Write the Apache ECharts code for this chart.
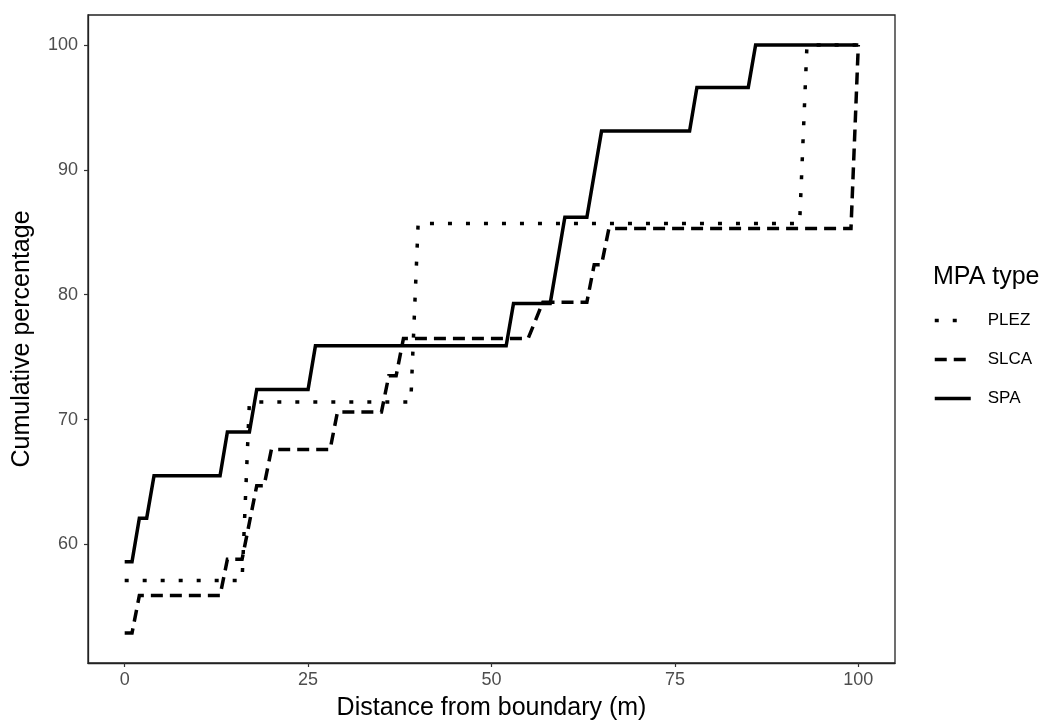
<!DOCTYPE html>
<html>
<head>
<meta charset="utf-8">
<script src="https://cdn.jsdelivr.net/npm/echarts@6/dist/echarts.min.js"></script>
<style>
html,body{margin:0;padding:0;background:#fff;}
#chart{width:1046px;height:728px;}
</style>
</head>
<body>
<div id="chart"></div>
<script>
// Data
const plezX = [0, 16, 17, 39, 40, 92, 93, 100];
const plezY = [57.1, 57.1, 71.4, 71.4, 85.7, 85.7, 100, 100];

const slcaX = [0, 1, 2, 13, 14, 16, 18, 19, 20, 28, 29, 35, 36, 37, 38, 55, 57, 63, 64, 65, 66, 99, 100];
const slcaY = [52.9, 52.9, 55.9, 55.9, 58.8, 58.8, 64.7, 64.7, 67.6, 67.6, 70.6, 70.6, 73.5, 73.5, 76.5, 76.5, 79.4, 79.4, 82.4, 82.4, 85.3, 85.3, 100];

const spaX = [0, 1, 2, 3, 4, 13, 14, 17, 18, 25, 26, 52, 53, 58, 60, 63, 65, 77, 78, 85, 86, 100];
const spaY = [58.6, 58.6, 62.1, 62.1, 65.5, 65.5, 69.0, 69.0, 72.4, 72.4, 75.9, 75.9, 79.3, 79.3, 86.2, 86.2, 93.1, 93.1, 96.6, 96.6, 100, 100];

const seriesNames = ['PLEZ', 'SLCA', 'SPA'];
const xTicks = [0, 25, 50, 75, 100];
const yTicks = [60, 70, 80, 90, 100];

const pairs = (xs, ys) => xs.map((x, i) => [x, ys[i]]);

const FONT = 'Liberation Sans, Arial, sans-serif';
const chart = echarts.init(document.getElementById('chart'), null, {renderer: 'canvas'});

function mkSeries(name, data, type) {
  return {
    name: name,
    type: 'line',
    data: data,
    showSymbol: false,
    symbol: 'none',
    animation: false,
    lineStyle: {color: '#000', width: 3.5, type: type, cap: 'butt', join: 'miter'},
    itemStyle: {color: '#000'}
  };
}

chart.setOption({
  animation: false,
  backgroundColor: '#fff',
  grid: {left: 88, right: 151, top: 15, bottom: 65, show: true, borderColor: '#222', borderWidth: 1.3, backgroundColor: '#fff'},
  title: {
    text: 'MPA type', left: 928, top: 260,
    textStyle: {fontFamily: FONT, fontSize: 25, fontWeight: 'normal', color: '#000'}
  },
  legend: {
    data: seriesNames,
    orient: 'vertical', left: 928, top: 307,
    itemWidth: 36, itemHeight: 16, itemGap: 22,
    itemStyle: {opacity: 0},
    lineStyle: {width: 3.5},
    textStyle: {fontFamily: FONT, fontSize: 17, color: '#000', padding: [0, 0, 0, 12]}
  },
  xAxis: {
    type: 'value', min: -5, max: 105,
    name: 'Distance from boundary (m)', nameLocation: 'middle', nameGap: 33,
    nameTextStyle: {fontFamily: FONT, fontSize: 25, color: '#000'},
    splitLine: {show: false},
    axisLine: {show: true, onZero: false, lineStyle: {color: '#222', width: 1.3}},
    axisTick: {show: true, length: 4, lineStyle: {color: '#333', width: 1.2}, customValues: xTicks},
    axisLabel: {fontFamily: FONT, fontSize: 18, color: '#4D4D4D', margin: 8, customValues: xTicks}
  },
  yAxis: {
    type: 'value', min: 50.5, max: 102.4,
    name: 'Cumulative percentage', nameLocation: 'middle', nameGap: 53, nameRotate: 90,
    nameTextStyle: {fontFamily: FONT, fontSize: 25, color: '#000'},
    splitLine: {show: false},
    axisLine: {show: true, onZero: false, lineStyle: {color: '#222', width: 1.3}},
    axisTick: {show: true, length: 4, lineStyle: {color: '#333', width: 1.2}, customValues: yTicks},
    axisLabel: {fontFamily: FONT, fontSize: 18, color: '#4D4D4D', margin: 10, customValues: yTicks}
  },
  series: [
    mkSeries('PLEZ', pairs(plezX, plezY), [4, 14]),
    mkSeries('SLCA', pairs(slcaX, slcaY), [12, 7]),
    mkSeries('SPA', pairs(spaX, spaY), 'solid')
  ]
});
</script>
</body>
</html>
